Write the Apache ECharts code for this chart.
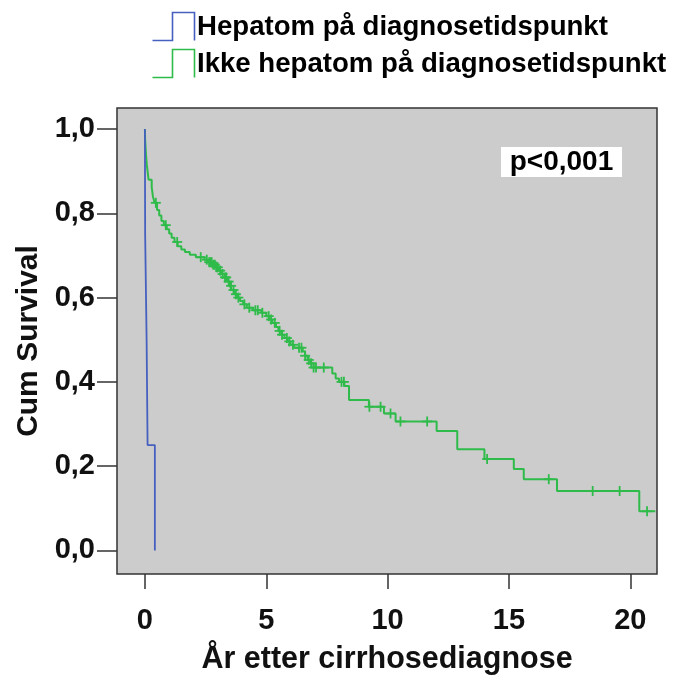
<!DOCTYPE html>
<html>
<head>
<meta charset="utf-8">
<script src="https://cdn.jsdelivr.net/npm/echarts@6/dist/echarts.min.js"></script>
<style>
  html, body { margin: 0; padding: 0; background: #ffffff; }
  #chart { width: 679px; height: 675px; }
</style>
</head>
<body>
<div id="chart"></div>
<script>
// Kaplan-Meier survival after cirrhosis diagnosis, split by hepatoma status.

// Group with hepatoma at diagnosis: step times (years) and survival after each step
const hepTimes = [0, 0.01, 0.07, 0.11, 0.41];
const hepSurv  = [1.0, 0.75, 0.50, 0.25, 0.0];

// Group without hepatoma at diagnosis: event times and survival after each event
const ikkeTimes = [
  0, 0.01, 0.03, 0.05, 0.08, 0.11, 0.15, 0.28, 0.33, 0.40, 0.50, 0.59, 0.68, 0.78,
  0.90, 1.00, 1.10, 1.22, 1.35, 1.50, 1.65, 1.85, 2.10, 2.45, 2.62, 2.78, 2.95,
  3.05, 3.15, 3.28, 3.40, 3.50, 3.58, 3.68, 3.80, 3.92, 4.05, 4.20, 4.45, 4.80,
  5.00, 5.12, 5.25, 5.40, 5.50, 5.62, 5.75, 5.88, 6.00, 6.15, 6.50, 6.60, 6.70,
  6.82, 6.95, 7.72, 7.86, 8.00, 8.22, 8.41, 9.23, 9.85, 10.33, 12.02, 12.87,
  13.99, 15.20, 15.61, 16.98, 20.37, 21.03
];
const ikkeSurv = [
  1.000, 0.975, 0.955, 0.935, 0.915, 0.900, 0.880, 0.862, 0.840, 0.825, 0.808, 0.795, 0.782, 0.772,
  0.762, 0.752, 0.742, 0.732, 0.722, 0.714, 0.708, 0.702, 0.696, 0.690, 0.684, 0.678, 0.672,
  0.664, 0.656, 0.648, 0.638, 0.628, 0.618, 0.608, 0.600, 0.592, 0.584, 0.576, 0.570, 0.564,
  0.556, 0.548, 0.540, 0.530, 0.521, 0.512, 0.504, 0.496, 0.488, 0.481, 0.472, 0.462, 0.452,
  0.444, 0.434, 0.420, 0.408, 0.400, 0.390, 0.357, 0.341, 0.325, 0.306, 0.2835, 0.240,
  0.217, 0.193, 0.169, 0.141, 0.093, 0.093
];

// Censored observations (years) in the group without hepatoma
const ikkeCensored = [
  0.45, 0.86, 1.33, 2.30, 2.55, 2.65, 2.70, 2.75, 2.82, 2.88, 2.95, 3.00, 3.10, 3.20,
  3.30, 3.35, 3.45, 3.55, 3.65, 3.75, 3.85, 4.10, 4.30, 4.55, 4.65, 4.84, 5.10, 5.20,
  5.35, 5.55, 5.65, 5.85, 5.95, 6.10, 6.35, 6.45, 6.60, 6.75, 6.85, 6.95, 7.05, 7.37,
  8.10, 8.20, 9.25, 9.71, 10.12, 10.53, 11.63, 14.10, 16.64, 18.45, 19.56, 20.69
];

const xTicks = [0, 5, 10, 15, 20];
const yTicks = [0, 0.2, 0.4, 0.6, 0.8, 1.0];

const seriesNames = ['Hepatom på diagnosetidspunkt', 'Ikke hepatom på diagnosetidspunkt'];
const pText = 'p<0,001';

const BLUE = '#4660c0';
const GREEN = '#2fbb4a';
const FONT = '"Liberation Sans", Arial, sans-serif';

function pairs(xs, ys) { return xs.map((x, i) => [x, ys[i]]); }

// survival value of the step function at time t
function survAt(times, surv, t) {
  let s = surv[0];
  for (let i = 0; i < times.length; i++) {
    if (times[i] <= t) s = surv[i]; else break;
  }
  return s;
}

const censorPoints = ikkeCensored.map(t => [t, survAt(ikkeTimes, ikkeSurv, t)]);

const chart = echarts.init(document.getElementById('chart'), null, { renderer: 'canvas' });

const tickLabel = v => v.toFixed(1).replace('.', ',');

chart.setOption({
  animation: false,
  backgroundColor: '#ffffff',
  textStyle: { fontFamily: FONT },
  grid: {
    left: 117, right: 22, top: 108, bottom: 101,
    outerBoundsMode: 'none', containLabel: false,
    show: true, backgroundColor: '#cccccc', borderColor: '#333333', borderWidth: 1.5
  },
  xAxis: {
    type: 'value', min: -1.15, max: 21.1,
    splitLine: { show: false },
    axisLine: { show: false, onZero: false },
    axisTick: { show: true, inside: false, length: 15, customValues: xTicks, lineStyle: { color: '#333333', width: 1.5 } },
    axisLabel: {
      customValues: xTicks, margin: 32,
      fontFamily: FONT, fontWeight: 'bold', fontSize: 29, color: '#111111'
    },
    name: 'År etter cirrhosediagnose', nameLocation: 'middle', nameGap: 70,
    nameTextStyle: { fontFamily: FONT, fontWeight: 'bold', fontSize: 30.5, color: '#111111' }
  },
  yAxis: {
    type: 'value', min: -0.056, max: 1.05,
    splitLine: { show: false },
    axisLine: { show: false, onZero: false },
    axisTick: { show: true, inside: false, length: 20, customValues: yTicks, lineStyle: { color: '#333333', width: 1.5 } },
    axisLabel: {
      customValues: yTicks, margin: 22, formatter: tickLabel,
      fontFamily: FONT, fontWeight: 'bold', fontSize: 29, color: '#111111'
    },
    name: 'Cum Survival', nameLocation: 'middle', nameGap: 66,
    nameTextStyle: { fontFamily: FONT, fontWeight: 'bold', fontSize: 30, color: '#111111' }
  },
  series: [
    {
      name: seriesNames[0], type: 'line', step: 'end', showSymbol: false,
      data: pairs(hepTimes, hepSurv),
      lineStyle: { color: BLUE, width: 1.8 }, z: 3
    },
    {
      name: seriesNames[1], type: 'line', step: 'end', showSymbol: false,
      data: pairs(ikkeTimes, ikkeSurv),
      lineStyle: { color: GREEN, width: 2 }, z: 2
    },
    {
      name: seriesNames[1], type: 'custom', data: censorPoints, z: 2,
      renderItem: function (params, api) {
        const p = api.coord([api.value(0), api.value(1)]);
        const h = 5;
        const style = { stroke: GREEN, lineWidth: 1.8, fill: null };
        return {
          type: 'group',
          children: [
            { type: 'line', shape: { x1: p[0] - h, y1: p[1], x2: p[0] + h, y2: p[1] }, style: style },
            { type: 'line', shape: { x1: p[0], y1: p[1] - h, x2: p[0], y2: p[1] + h }, style: style }
          ]
        };
      }
    }
  ],
  graphic: [
    // legend: step-shaped keys with labels
    { type: 'polyline', shape: { points: [[152.5, 40.5], [172.5, 40.5], [172.5, 12.5], [194.5, 12.5], [194.5, 40.5]] },
      style: { stroke: BLUE, lineWidth: 1.6, fill: null } },
    { type: 'text', left: 197, top: 13,
      style: { text: seriesNames[0], font: 'bold 27.6px ' + FONT, fill: '#000000' } },
    { type: 'polyline', shape: { points: [[152.5, 77.5], [172.5, 77.5], [172.5, 49.5], [194.5, 49.5], [194.5, 77.5]] },
      style: { stroke: GREEN, lineWidth: 1.6, fill: null } },
    { type: 'text', left: 197, top: 50,
      style: { text: seriesNames[1], font: 'bold 27.6px ' + FONT, fill: '#000000' } },
    // p-value box
    { type: 'rect', shape: { x: 501, y: 147, width: 121, height: 30 }, style: { fill: '#ffffff' }, z: 10 },
    { type: 'text', x: 561.5, y: 162, z: 11,
      style: { text: pText, font: 'bold 28px ' + FONT, fill: '#000000', align: 'center', verticalAlign: 'middle' } }
  ]
});
</script>
</body>
</html>
